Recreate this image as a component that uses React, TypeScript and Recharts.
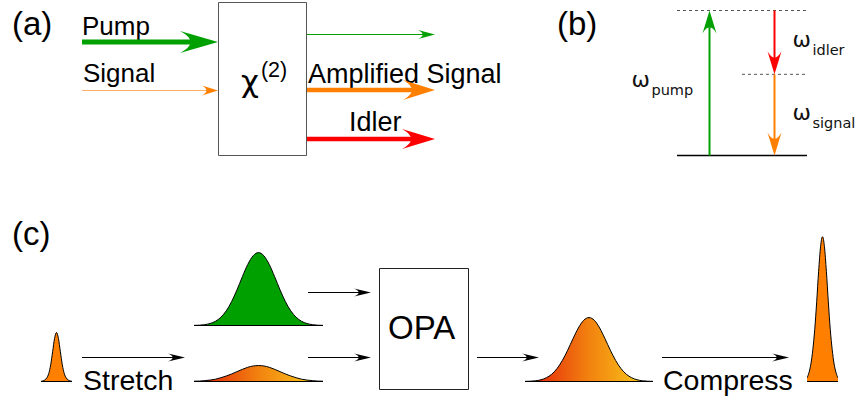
import React from 'react';
import {
  ComposedChart,
  AreaChart,
  Area,
  XAxis,
  YAxis,
  ReferenceLine,
  ReferenceArea,
} from 'recharts';

const SANS = '"Liberation Sans", Arial, Helvetica, sans-serif';
const GREEK = '"DejaVu Sans", sans-serif';

const GREEN = '#00a000';
const ORANGE = '#ff8000';
const RED = '#ff0000';

// Pulse envelopes, sampled evenly across each pulse window.
// Amplitudes are normalised to the peak of the compressed output pulse.
const seedPulse = [0.001, 0.004, 0.011, 0.025, 0.055, 0.115, 0.205, 0.297, 0.338, 0.297, 0.205, 0.115, 0.055, 0.025, 0.011, 0.004, 0.001];
const pumpPulse = [0.001, 0.002, 0.006, 0.014, 0.029, 0.057, 0.101, 0.165, 0.246, 0.337, 0.421, 0.481, 0.503, 0.481, 0.421, 0.337, 0.246, 0.165, 0.101, 0.057, 0.029, 0.014, 0.006, 0.002, 0.001];
const stretchedSignal = [0.002, 0.003, 0.006, 0.01, 0.016, 0.026, 0.038, 0.052, 0.068, 0.084, 0.098, 0.107, 0.11, 0.107, 0.098, 0.084, 0.068, 0.052, 0.038, 0.026, 0.016, 0.01, 0.006, 0.003, 0.002];
const amplifiedSignal = [0.001, 0.002, 0.005, 0.012, 0.026, 0.05, 0.089, 0.145, 0.216, 0.295, 0.369, 0.422, 0.441, 0.422, 0.369, 0.295, 0.216, 0.145, 0.089, 0.05, 0.026, 0.012, 0.005, 0.002, 0.001];
const compressedPulse = [0.025, 0.06, 0.12, 0.22, 0.36, 0.55, 0.76, 0.93, 1, 0.93, 0.76, 0.55, 0.36, 0.22, 0.12, 0.06, 0.025];

// Photon energies in units of the pump frequency: ω_pump = ω_signal + ω_idler.
const levelEnergy = [0, 0.56, 1];
const transitionNames = ['pump', 'idler', 'signal'];
const transitionFrom = [0, 1, 0.56];
const transitionTo = [1, 0.56, 0];

type Head = { len: number; half: number };

// Line with a swept-back arrowhead, drawn between the ReferenceLine end points.
const arrowShape = (headColor: string, lineColor: string, width: number, head: Head) => (p: any) => {
  const { x1, y1, x2, y2 } = p;
  const dx = x2 - x1;
  const dy = y2 - y1;
  const d = Math.hypot(dx, dy) || 1;
  const ux = dx / d;
  const uy = dy / d;
  const nx = -uy;
  const ny = ux;
  const bx = x2 - ux * head.len;
  const by = y2 - uy * head.len;
  const cx = x2 - ux * head.len * 0.45;
  const cy = y2 - uy * head.len * 0.45;
  const ex = x2 - ux * head.len * 0.6;
  const ey = y2 - uy * head.len * 0.6;
  const path = `M${x2},${y2} L${bx + nx * head.half},${by + ny * head.half} Q${cx},${cy} ${bx - nx * head.half},${by - ny * head.half} Z`;
  return (
    <g>
      <line x1={x1} y1={y1} x2={ex} y2={ey} stroke={lineColor} strokeWidth={width} />
      <path d={path} fill={headColor} />
    </g>
  );
};

const Caption = ({ x, y, size = 26, children }: { x: number; y: number; size?: number; children: React.ReactNode }) => (
  <text x={x} y={y} fontSize={size} fontFamily={SANS} fill="#000">
    {children}
  </text>
);

const PULSE_H = 145;

function Pulse({
  values,
  left,
  width,
  baseline,
  fill,
  gradientId,
}: {
  values: number[];
  left: number;
  width: number;
  baseline: number;
  fill: string;
  gradientId?: string;
}) {
  const data = values.map((a, t) => ({ t, a }));
  return (
    <div style={{ position: 'absolute', left, top: baseline - PULSE_H - 1, width, height: PULSE_H + 3 }}>
      <AreaChart width={width} height={PULSE_H + 3} data={data} margin={{ top: 1.5, right: 0, bottom: 1.5, left: 0 }}>
        {gradientId && (
          <defs>
            <linearGradient id={gradientId} x1="0" y1="0" x2="1" y2="0">
              <stop offset="0%" stopColor="#e4190a" />
              <stop offset="50%" stopColor="#f2820f" />
              <stop offset="100%" stopColor="#f9d01c" />
            </linearGradient>
          </defs>
        )}
        <XAxis type="number" dataKey="t" domain={[0, values.length - 1]} hide />
        <YAxis type="number" domain={[0, 1]} hide allowDataOverflow />
        <Area
          type="monotone"
          dataKey="a"
          stroke="#000"
          strokeWidth={1}
          fill={gradientId ? `url(#${gradientId})` : fill}
          fillOpacity={1}
          dot={false}
          activeDot={false}
          isAnimationActive={false}
        />
        <ReferenceLine y={0} stroke="#000" strokeWidth={1} />
      </AreaChart>
    </div>
  );
}

const transitionX = [0.25, 0.75, 0.75];
const transitionColor = [GREEN, RED, ORANGE];

const OmegaLabel = ({ x, y, sub }: { x: number; y: number; sub: string }) => (
  <text x={x} y={y} fontFamily={GREEK} fill="#111">
    <tspan fontSize={22}>ω</tspan>
    <tspan fontSize={14.5} dx={1.5} dy={8}>
      {sub}
    </tspan>
  </text>
);

function EnergyDiagram() {
  return (
    <div style={{ position: 'absolute', left: 600, top: 0, width: 255, height: 166 }}>
      <ComposedChart width={255} height={166} margin={{ top: 10.5, right: 48, bottom: 10.5, left: 77 }}>
        <XAxis type="number" dataKey="x" domain={[0, 1]} hide allowDataOverflow />
        <YAxis type="number" domain={[0, 1]} hide allowDataOverflow />
        <ReferenceLine
          segment={[{ x: 0, y: levelEnergy[2] }, { x: 1, y: levelEnergy[2] }]}
          stroke="#555"
          strokeWidth={1}
          strokeDasharray="3 3"
        />
        <ReferenceLine
          segment={[{ x: 0.5, y: levelEnergy[1] }, { x: 1, y: levelEnergy[1] }]}
          stroke="#555"
          strokeWidth={1}
          strokeDasharray="3 3"
        />
        <ReferenceLine y={levelEnergy[0]} stroke="#000" strokeWidth={1.5} />
        {transitionNames.map((name, i) => (
          <ReferenceLine
            key={name}
            segment={[
              { x: transitionX[i], y: transitionFrom[i] },
              { x: transitionX[i], y: transitionTo[i] },
            ]}
            shape={arrowShape(transitionColor[i], transitionColor[i], 2, { len: 23, half: 7 })}
            label={{
              content: ({ viewBox }: any) => {
                const midY = viewBox.y + viewBox.height / 2;
                return i === 0 ? (
                  <OmegaLabel x={viewBox.x - 78} y={midY + 4} sub={name} />
                ) : (
                  <OmegaLabel x={viewBox.x + 18} y={midY + 5} sub={name} />
                );
              },
            }}
          />
        ))}
      </ComposedChart>
    </div>
  );
}

function Diagram() {
  return (
    <ComposedChart width={855} height={405} margin={{ top: 0, right: 0, bottom: 0, left: 0 }}>
      <XAxis type="number" dataKey="x" domain={[0, 855]} hide allowDataOverflow />
      <YAxis type="number" domain={[0, 405]} reversed hide allowDataOverflow />

      {/* nonlinear crystal and OPA stage */}
      <ReferenceArea x1={218.5} x2={306.5} y1={2.5} y2={155.5} fill="none" stroke="#555" strokeWidth={1} />
      <ReferenceArea x1={379.5} x2={468.5} y1={268.5} y2={389.5} fill="none" stroke="#222" strokeWidth={1} />

      {/* (a) beams in and out of the crystal */}
      <ReferenceLine segment={[{ x: 82, y: 42 }, { x: 218, y: 42 }]} shape={arrowShape(GREEN, GREEN, 5, { len: 38, half: 11 })} />
      <ReferenceLine segment={[{ x: 82, y: 90.5 }, { x: 218, y: 90.5 }]} shape={arrowShape(ORANGE, '#ffb066', 1, { len: 16, half: 5 })} />
      <ReferenceLine segment={[{ x: 307, y: 34.5 }, { x: 435, y: 34.5 }]} shape={arrowShape(GREEN, GREEN, 1, { len: 17, half: 4.5 })} />
      <ReferenceLine segment={[{ x: 307, y: 90 }, { x: 435, y: 90 }]} shape={arrowShape(ORANGE, ORANGE, 4.5, { len: 32, half: 10 })} />
      <ReferenceLine segment={[{ x: 307, y: 139 }, { x: 435, y: 139 }]} shape={arrowShape(RED, RED, 4.5, { len: 33, half: 10 })} />

      {/* (c) chirped-pulse amplification chain */}
      <ReferenceLine segment={[{ x: 82, y: 357.5 }, { x: 185, y: 357.5 }]} shape={arrowShape('#000', '#000', 1, { len: 17, half: 4 })} />
      <ReferenceLine segment={[{ x: 308, y: 292.5 }, { x: 371, y: 292.5 }]} shape={arrowShape('#000', '#000', 1, { len: 17, half: 4 })} />
      <ReferenceLine segment={[{ x: 308, y: 357.5 }, { x: 371, y: 357.5 }]} shape={arrowShape('#000', '#000', 1, { len: 17, half: 4 })} />
      <ReferenceLine segment={[{ x: 477, y: 357.5 }, { x: 539, y: 357.5 }]} shape={arrowShape('#000', '#000', 1, { len: 17, half: 4 })} />
      <ReferenceLine segment={[{ x: 662, y: 357.5 }, { x: 789, y: 357.5 }]} shape={arrowShape('#000', '#000', 1, { len: 17, half: 4 })} />

      <Caption x={12} y={35} size={33}>(a)</Caption>
      <Caption x={557} y={35} size={33}>(b)</Caption>
      <Caption x={12} y={245} size={33}>(c)</Caption>

      <Caption x={82} y={35}>Pump</Caption>
      <Caption x={83} y={82}>Signal</Caption>
      <Caption x={308} y={83} size={27}>Amplified Signal</Caption>
      <Caption x={349} y={131} size={27}>Idler</Caption>
      <text x={241} y={92} fill="#000">
        <tspan fontFamily={GREEK} fontSize={31}>χ</tspan>
        <tspan fontFamily={SANS} fontSize={21.5} dx={2} dy={-15}>(2)</tspan>
      </text>

      <Caption x={83} y={390} size={28.5}>Stretch</Caption>
      <Caption x={388} y={339} size={33}>OPA</Caption>
      <Caption x={663} y={390} size={28.5}>Compress</Caption>
    </ComposedChart>
  );
}

export default function App() {
  return (
    <div style={{ position: 'absolute', left: 0, top: 0, width: 855, height: 405, background: '#fff', overflow: 'hidden' }}>
      <div style={{ position: 'absolute', left: 0, top: 0 }}>
        <Diagram />
      </div>
      <EnergyDiagram />
      <Pulse values={seedPulse} left={41} width={31} baseline={381} fill={ORANGE} />
      <Pulse values={pumpPulse} left={194} width={129} baseline={325} fill={GREEN} />
      <Pulse values={stretchedSignal} left={194} width={129} baseline={381} fill={ORANGE} gradientId="stretchedFill" />
      <Pulse values={amplifiedSignal} left={525} width={128} baseline={381} fill={ORANGE} gradientId="amplifiedFill" />
      <Pulse values={compressedPulse} left={807} width={31} baseline={381} fill={ORANGE} />
    </div>
  );
}
